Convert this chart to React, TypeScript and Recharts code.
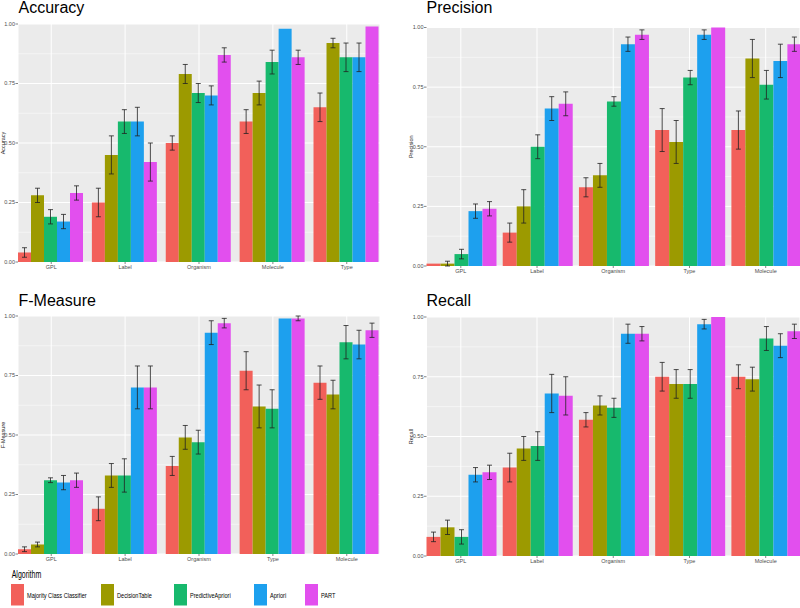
import React from 'react';
import { BarChart, Bar, XAxis, YAxis, CartesianGrid, ErrorBar } from 'recharts';

const algorithms = ['Majority Class Classifier', 'DecisionTable', 'PredictiveApriori', 'Apriori', 'PART'];
const colors = ['#F2605A', '#9C9A00', '#17B96D', '#1DA0EE', '#E24FEE'];

const yTicks = [0, 0.25, 0.5, 0.75, 1];
const minorTicks = [0.125, 0.375, 0.625, 0.875];

// Accuracy
const accuracyCategories = ['GPL', 'Label', 'Organism', 'Molecule', 'Type'];
const accuracyValues = [
  [0.04, 0.25, 0.5, 0.59, 0.65],
  [0.28, 0.45, 0.79, 0.71, 0.92],
  [0.19, 0.59, 0.71, 0.84, 0.86],
  [0.17, 0.59, 0.7, 0.98, 0.86],
  [0.29, 0.42, 0.87, 0.86, 0.99],
];
const accuracyErrors = [
  [0.02, 0.06, 0.03, 0.05, 0.06],
  [0.03, 0.08, 0.04, 0.05, 0.02],
  [0.03, 0.05, 0.04, 0.05, 0.06],
  [0.03, 0.06, 0.04, 0, 0.06],
  [0.03, 0.08, 0.03, 0.03, 0],
];

// Precision
const precisionCategories = ['GPL', 'Label', 'Organism', 'Type', 'Molecule'];
const precisionValues = [
  [0.01, 0.14, 0.33, 0.57, 0.57],
  [0.01, 0.25, 0.38, 0.52, 0.87],
  [0.05, 0.5, 0.69, 0.79, 0.76],
  [0.23, 0.66, 0.93, 0.97, 0.86],
  [0.24, 0.68, 0.97, 1.0, 0.93],
];
const precisionErrors = [
  [0, 0.04, 0.04, 0.09, 0.08],
  [0.01, 0.07, 0.05, 0.09, 0.08],
  [0.02, 0.05, 0.02, 0.03, 0.06],
  [0.03, 0.05, 0.03, 0.02, 0.07],
  [0.03, 0.05, 0.02, 0, 0.03],
];

// F-Measure
const fmeasureCategories = ['GPL', 'Label', 'Organism', 'Type', 'Molecule'];
const fmeasureValues = [
  [0.02, 0.19, 0.37, 0.77, 0.72],
  [0.04, 0.33, 0.49, 0.62, 0.67],
  [0.31, 0.33, 0.47, 0.61, 0.89],
  [0.3, 0.7, 0.93, 0.99, 0.88],
  [0.31, 0.7, 0.97, 0.99, 0.94],
];
const fmeasureErrors = [
  [0.01, 0.05, 0.04, 0.08, 0.07],
  [0.01, 0.05, 0.05, 0.09, 0.06],
  [0.01, 0.07, 0.05, 0.08, 0.07],
  [0.03, 0.09, 0.05, 0, 0.06],
  [0.03, 0.09, 0.02, 0.01, 0.03],
];

// Recall
const recallCategories = ['GPL', 'Label', 'Organism', 'Type', 'Molecule'];
const recallValues = [
  [0.08, 0.37, 0.57, 0.75, 0.75],
  [0.12, 0.45, 0.63, 0.72, 0.74],
  [0.08, 0.46, 0.62, 0.72, 0.91],
  [0.34, 0.68, 0.93, 0.97, 0.88],
  [0.35, 0.67, 0.93, 1.0, 0.94],
];
const recallErrors = [
  [0.02, 0.06, 0.03, 0.06, 0.05],
  [0.03, 0.05, 0.04, 0.06, 0.05],
  [0.03, 0.06, 0.04, 0.06, 0.05],
  [0.03, 0.08, 0.04, 0.02, 0.05],
  [0.03, 0.08, 0.03, 0, 0.03],
];

const FONT = '"Liberation Sans", Arial, sans-serif';
const Y_AXIS_W = 18;

interface PanelProps {
  title: string;
  categories: string[];
  values: number[][];
  errors: number[][];
  left: number;
  top: number;
  width: number;
  height: number;
  margin: { top: number; right: number; bottom: number; left: number };
}

const Panel: React.FC<PanelProps> = ({ title, categories, values, errors, left, top, width, height, margin }) => {
  const data = categories.map((name, i) => {
    const row: Record<string, any> = { name };
    values.forEach((s, k) => {
      row[`v${k}`] = s[i];
      row[`e${k}`] = errors[k][i];
    });
    return row;
  });
  // bars run edge to edge, like ggplot with expand = 0
  const plotW = width - margin.left - margin.right - Y_AXIS_W;
  const pad = -plotW / 98;

  return (
    <div style={{ position: 'absolute', left, top }}>
      <BarChart width={width} height={height} data={data} margin={margin} barCategoryGap="5%" barGap={0}>
        <CartesianGrid fill="#EBEBEB" stroke="#FFFFFF" strokeWidth={1} />
        <CartesianGrid horizontalValues={minorTicks} vertical={false} stroke="#FFFFFF" strokeWidth={0.5} />
        <XAxis
          dataKey="name"
          interval={0}
          padding={{ left: pad, right: pad }}
          axisLine={false}
          tickSize={2}
          tickMargin={1}
          tickLine={{ stroke: '#333333', strokeWidth: 0.6 }}
          tick={{ fontSize: 5.5, fill: '#4D4D4D', fontFamily: FONT }}
          height={18}
        />
        <YAxis
          type="number"
          domain={[0, 1]}
          ticks={yTicks}
          tickFormatter={(v: number) => v.toFixed(2)}
          width={Y_AXIS_W}
          axisLine={false}
          tickSize={2.5}
          tickMargin={0.5}
          tickLine={{ stroke: '#333333', strokeWidth: 0.6 }}
          tick={{ fontSize: 5.5, fill: '#4D4D4D', fontFamily: FONT }}
          label={{
            content: (p: any) => {
              const vb = p.viewBox || {};
              const x = (vb.x ?? 0) + 4.5;
              const y = (vb.y ?? 0) + (vb.height ?? 0) / 2;
              return (
                <text
                  x={x}
                  y={y}
                  transform={`rotate(-90, ${x}, ${y})`}
                  textAnchor="middle"
                  fontSize={5.5}
                  fill="#1A1A1A"
                  fontFamily={FONT}
                >
                  {title}
                </text>
              );
            },
          }}
        />
        {algorithms.map((a, k) => (
          <Bar key={a} dataKey={`v${k}`} name={a} fill={colors[k]} isAnimationActive={false}>
            <ErrorBar dataKey={`e${k}`} width={2.5} stroke="#222222" strokeWidth={0.8} direction="y" />
          </Bar>
        ))}
      </BarChart>
    </div>
  );
};

const legendX = [11, 101, 174, 254, 305];

export default function App() {
  return (
    <div
      style={{
        position: 'absolute',
        left: 0,
        top: 0,
        width: 800,
        height: 608,
        background: '#FFFFFF',
        overflow: 'hidden',
        fontFamily: FONT,
      }}
    >
      <Panel
        title="Accuracy"
        categories={accuracyCategories}
        values={accuracyValues}
        errors={accuracyErrors}
        left={0}
        top={0}
        width={390}
        height={280}
        margin={{ top: 24, right: 10, bottom: 0, left: 0 }}
      />
      <Panel
        title="Precision"
        categories={precisionCategories}
        values={precisionValues}
        errors={precisionErrors}
        left={400}
        top={0}
        width={400}
        height={284}
        margin={{ top: 27.5, right: 0, bottom: 0, left: 8.5 }}
      />
      <Panel
        title="F-Measure"
        categories={fmeasureCategories}
        values={fmeasureValues}
        errors={fmeasureErrors}
        left={0}
        top={292}
        width={390}
        height={280}
        margin={{ top: 24, right: 10, bottom: 0, left: 0 }}
      />
      <Panel
        title="Recall"
        categories={recallCategories}
        values={recallValues}
        errors={recallErrors}
        left={400}
        top={292}
        width={400}
        height={282}
        margin={{ top: 25, right: 0, bottom: 0, left: 8.5 }}
      />
      <svg width={800} height={608} style={{ position: 'absolute', left: 0, top: 0, pointerEvents: 'none' }}>
        <g fontFamily={FONT} fill="#000000" fontSize={16}>
          <text x={18.5} y={12.5}>Accuracy</text>
          <text x={426.5} y={12.5}>Precision</text>
          <text x={18.5} y={305.5}>F-Measure</text>
          <text x={426.5} y={305.5}>Recall</text>
        </g>
        <g fontFamily={FONT}>
          <text transform="translate(11.7, 578.3) scale(0.7, 1)" fontSize={10} fill="#000000">
            Algorithm
          </text>
          {algorithms.map((a, k) => (
            <g key={a}>
              <rect x={legendX[k]} y={584} width={13} height={21.5} fill={colors[k]} />
              <text
                transform={`translate(${legendX[k] + 16}, 597.8) scale(0.7, 1)`}
                fontSize={8}
                fill="#000000"
              >
                {a}
              </text>
            </g>
          ))}
        </g>
      </svg>
    </div>
  );
}
